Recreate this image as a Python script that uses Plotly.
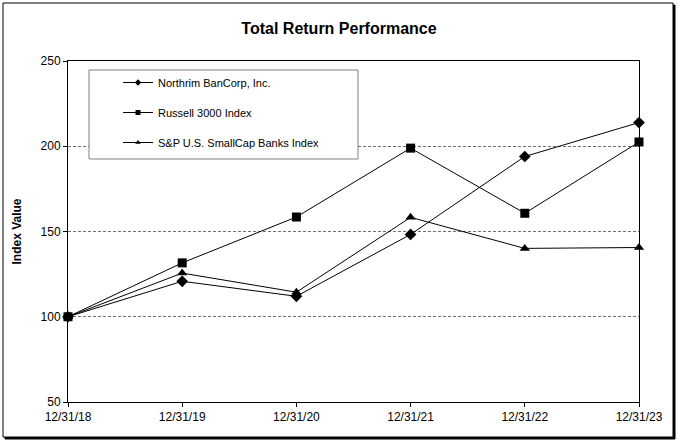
import plotly.graph_objects as go

categories = ["12/31/18", "12/31/19", "12/31/20", "12/31/21", "12/31/22", "12/31/23"]
northrim = [100, 120.8, 112.0, 148.3, 194.0, 213.9]
russell = [100, 131.6, 158.5, 198.9, 160.7, 202.5]
sp_banks = [100, 125.6, 114.4, 158.3, 140.1, 140.6]
series_names = ["Northrim BanCorp, Inc.", "Russell 3000 Index", "S&P U.S. SmallCap Banks Index"]
y_ticks = [50, 100, 150, 200, 250]

W, H = 678, 444
L, R, T, B = 68, 639, 61, 402

def px(x):
    return (x - L) / (R - L)

def py(y):
    return (B - y) / (B - T)

FONT = "Liberation Sans, Arial, sans-serif"
xs = list(range(len(categories)))

fig = go.Figure()
symbols = ["diamond", "square", "triangle-up"]
sizes = [9, 9, 9]
for name, vals, sym, sz in zip(series_names, [northrim, russell, sp_banks], symbols, sizes):
    fig.add_trace(go.Scatter(
        x=xs, y=vals, name=name, mode="lines+markers",
        line=dict(color="black", width=1),
        marker=dict(symbol=sym, size=sz, color="black"),
        cliponaxis=False, legendgroup=name, showlegend=False,
    ))
    # legend entry with smaller symbol, as in the reference
    fig.add_trace(go.Scatter(
        x=[None], y=[None], name=name, mode="lines+markers",
        line=dict(color="black", width=1),
        marker=dict(symbol=sym, size=5, color="black"),
        legendgroup=name, showlegend=True, hoverinfo="skip",
    ))

shapes = []
# outer frame with shadow
shapes.append(dict(type="rect", xref="paper", yref="paper",
                   x0=px(5), x1=px(675), y0=py(439), y1=py(5),
                   line=dict(color="black", width=1), fillcolor="black", layer="below"))
shapes.append(dict(type="rect", xref="paper", yref="paper",
                   x0=px(3), x1=px(673), y0=py(437), y1=py(3),
                   line=dict(color="black", width=1), fillcolor="white", layer="below"))
# legend box
shapes.append(dict(type="rect", xref="paper", yref="paper",
                   x0=px(89), x1=px(358), y0=py(159), y1=py(70),
                   line=dict(color="#808080", width=1), fillcolor="white", layer="above"))

fig.update_layout(
    width=W, height=H,
    margin=dict(l=L, r=W - R, t=T, b=H - B),
    paper_bgcolor="white", plot_bgcolor="white",
    font=dict(family=FONT, size=12, color="black"),
    title=dict(text="<b>Total Return Performance</b>", x=0.5, xanchor="center",
               y=1 - 28 / H, yanchor="middle", font=dict(size=16, family=FONT)),
    showlegend=True,
    legend=dict(x=px(118), y=py(68), xanchor="left", yanchor="top",
                bgcolor="rgba(0,0,0,0)", borderwidth=0,
                font=dict(size=11, family=FONT),
                traceorder="grouped", tracegroupgap=11, itemwidth=30),
    shapes=shapes,
    xaxis=dict(range=[0, len(categories) - 1], tickmode="array", tickvals=xs,
               ticktext=categories, showgrid=False, zeroline=False,
               showline=True, linecolor="black", linewidth=1, mirror=True,
               ticks="outside", ticklen=4, tickcolor="black",
               tickfont=dict(size=12, family=FONT)),
    yaxis=dict(range=[50, 250], tickmode="array", tickvals=y_ticks,
               showgrid=True, gridcolor="#707070", griddash="3px,2px", gridwidth=1,
               zeroline=False, showline=True, linecolor="black", linewidth=1, mirror=True,
               ticks="outside", ticklen=4, tickcolor="black",
               tickfont=dict(size=12, family=FONT),
               title=dict(text="<b>Index Value</b>", font=dict(size=12, family=FONT), standoff=16)),
)

fig.write_html("out.html", config={"displayModeBar": False},
               post_script="document.body.style.margin='0';document.body.style.overflow='hidden';")
